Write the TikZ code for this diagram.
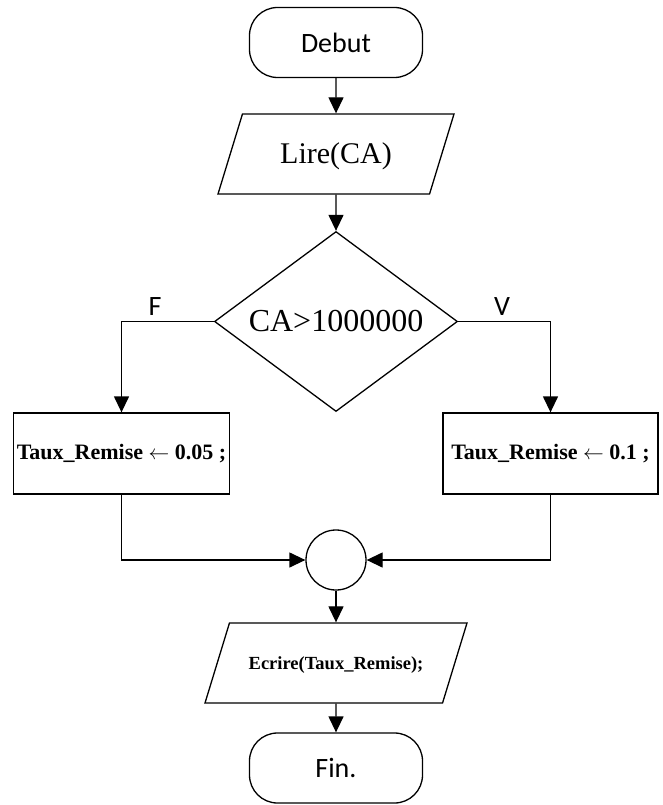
\documentclass[tikz,border=0pt]{standalone}
\usepackage{fontspec}
\setmainfont{Liberation Serif}
\newfontfamily\calibri{Carlito}
\usetikzlibrary{shapes.geometric,arrows.meta,positioning,calc}

\begin{document}
\begin{tikzpicture}[x=1pt,y=-1pt,
line width=1.3pt,
flow/.style={-{Triangle[length=16pt,width=15pt]}},
terminal/.style={draw, rounded corners=28pt, minimum width=173pt, minimum height=70pt, font=\calibri\fontsize{28}{30}\selectfont},
io/.style={draw, trapezium, trapezium stretches body, trapezium left angle=73, trapezium right angle=107, inner ysep=0pt},
test/.style={draw, diamond, aspect=1.35, inner sep=0pt, minimum width=243pt, minimum height=180pt, font=\fontsize{32}{34}\selectfont},
assign/.style={draw, minimum width=215pt, minimum height=81pt, font=\bfseries\fontsize{22}{24}\selectfont},
branch/.style={font=\calibri\fontsize{28}{30}\selectfont},
]
	\useasboundingbox (0,0) rectangle (662,805);
	\node[terminal] (debut) at (336,42.5) {Debut}; %start
	\node[io, minimum width=236pt, text height=50pt, text depth=30pt, font=\fontsize{30}{32}\selectfont] (lire) at (336,154) {Lire(CA)};
	\node[test] (test) at (336,321.5) {CA>1000000};
	\node[branch] (F) at (155,307) {F};
	\node[branch] (V) at (502,307) {V};
	\node[assign] (lbox) at (121.5,453.5) {Taux\_Remise $\leftarrow$ 0.05 ;};
	\node[assign] (rbox) at (550.5,453.5) {Taux\_Remise $\leftarrow$ 0.1 ;};
	\node[draw, circle, minimum size=60pt] (join) at (336,560) {};
	\node[io, minimum width=262pt, text height=46pt, text depth=34pt, font=\bfseries\fontsize{18.5}{20}\selectfont] (ecrire) at (336,663) {Ecrire(Taux\_Remise);};
	\node[terminal] (fin) at (336,768) {Fin.}; %end

	\draw[flow] (debut) -- (lire);
	\draw[flow] (lire) -- (test);
	\draw[flow] (test.west) -| (lbox.north);
	\draw[flow] (test.east) -| (rbox.north);
	\draw[flow] (lbox.south) |- (join.west);
	\draw[flow] (rbox.south) |- (join.east);
	\draw[flow] (join) -- (ecrire);
	\draw[flow] (ecrire) -- (fin);
\end{tikzpicture}
\end{document}
